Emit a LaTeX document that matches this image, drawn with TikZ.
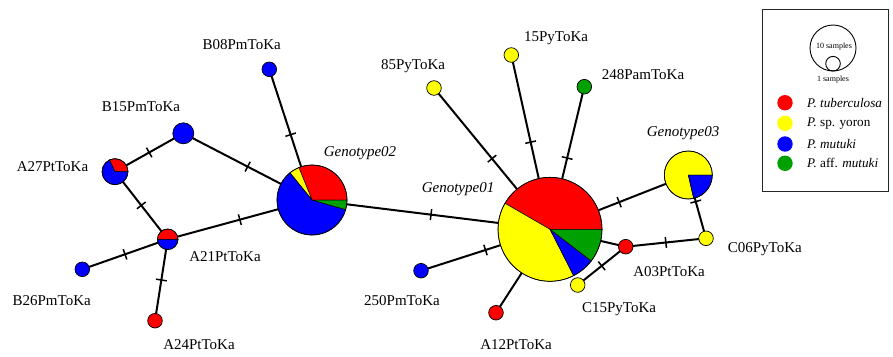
\documentclass[tikz,border=0pt]{standalone}
\usepackage{fontspec}
\setmainfont{Liberation Serif}
\usetikzlibrary{decorations.markings}
\pgfdeclarelayer{edges}
\pgfdeclarelayer{slices}
\pgfsetlayers{edges,slices,main}
\definecolor{pred}{RGB}{255,0,0}
\definecolor{pyel}{RGB}{255,255,0}
\definecolor{pblu}{RGB}{0,0,255}
\definecolor{pgrn}{RGB}{0,160,0}
\tikzset{
  hap/.style={circle, draw=black, line width=0.7pt, inner sep=0pt},
  link/.style={line width=2pt, black},
  tickd/.style={link, postaction={decorate, decoration={markings,
      mark=at position #1 with {\draw[line width=1.5pt] (0,-5.5pt) -- (0,5.5pt);}}}},
  tickd/.default=0.5,
  lab/.style={font=\fontsize{15}{17}\selectfont, inner sep=0pt, text height=9.9pt, text depth=0pt},
  glab/.style={font=\fontsize{15}{17}\selectfont\itshape, inner sep=0pt, text height=9.9pt, text depth=0pt},
  leglab/.style={font=\fontsize{13.2}{15}\selectfont, inner sep=0pt, anchor=west},
  legdot/.style={circle, inner sep=0pt, minimum size=15.4pt},
  smalllab/.style={font=\fontsize{8}{9}\selectfont, inner sep=0pt},
}
\newcommand{\pslice}[5]{%
  \filldraw[fill=#5, draw=black, line width=0.5pt] (#1.center) -- ++(#3:#2) arc[start angle=#3, end angle=#4, radius=#2] -- cycle;}
\begin{document}
\begin{tikzpicture}[x=1pt, y=-1pt]
\useasboundingbox (0,0) rectangle (893,356);
% haplotype nodes
\node[hap, minimum size=70pt] (G02) at (312,200) {};
\node[hap, minimum size=104pt] (G01) at (550,229.3) {};
\node[hap, minimum size=48pt] (G03) at (688.3,175) {};
\node[hap, minimum size=26pt] (A27) at (115,171.7) {};
\node[hap, minimum size=20.6pt] (A21) at (167.7,239.3) {};
\node[hap, minimum size=21pt, fill=pblu] (B15) at (183.3,133.3) {};
\node[hap, minimum size=14.6pt, fill=pblu] (B08) at (269.3,69.3) {};
\node[hap, minimum size=14.6pt, fill=pblu] (B26) at (82.3,269.3) {};
\node[hap, minimum size=14.6pt, fill=pred] (A24) at (155,320.7) {};
\node[hap, minimum size=14.6pt, fill=pyel] (n15) at (511.3,55) {};
\node[hap, minimum size=14.6pt, fill=pyel] (n85) at (434,88) {};
\node[hap, minimum size=14.6pt, fill=pgrn] (n248) at (584.3,86.7) {};
\node[hap, minimum size=14.6pt, fill=pyel] (C06) at (706,238.3) {};
\node[hap, minimum size=14.6pt, fill=pred] (A03) at (625.7,246.7) {};
\node[hap, minimum size=14.6pt, fill=pyel] (C15) at (577.7,285) {};
\node[hap, minimum size=14.6pt, fill=pblu] (n250) at (421,270.7) {};
\node[hap, minimum size=14.6pt, fill=pred] (A12) at (496,312.7) {};
% pie slices
\begin{pgfonlayer}{slices}
\pslice{G02}{35pt}{0}{112}{pred}
\pslice{G02}{35pt}{112}{129}{pyel}
\pslice{G02}{35pt}{129}{344}{pblu}
\pslice{G02}{35pt}{344}{360}{pgrn}
\pslice{G01}{52pt}{0}{150}{pred}
\pslice{G01}{52pt}{150}{297}{pyel}
\pslice{G01}{52pt}{297}{322.5}{pblu}
\pslice{G01}{52pt}{322.5}{360}{pgrn}
\pslice{G03}{24pt}{0}{283}{pyel}
\pslice{G03}{24pt}{283}{360}{pblu}
\pslice{A27}{13pt}{0}{115}{pred}
\pslice{A27}{13pt}{115}{360}{pblu}
\pslice{A21}{10.3pt}{0}{180}{pred}
\pslice{A21}{10.3pt}{180}{360}{pblu}
\end{pgfonlayer}
% connectors
\begin{pgfonlayer}{edges}
\draw[tickd] (B08.center) -- (G02.center);
\draw[tickd] (B15.center) -- (G02.center);
\draw[tickd] (B15.center) -- (A27.center);
\draw[tickd] (A27.center) -- (A21.center);
\draw[tickd] (A21.center) -- (G02.center);
\draw[tickd] (A21.center) -- (B26.center);
\draw[tickd] (A21.center) -- (A24.center);
\draw[tickd] (G02.center) -- (G01.center);
\draw[tickd] (n85.center) -- (G01.center);
\draw[tickd] (n15.center) -- (G01.center);
\draw[tickd] (n248.center) -- (G01.center);
\draw[tickd] (G03.center) -- (G01.center);
\draw[tickd=0.42] (G03.center) -- (C06.center);
\draw[tickd] (C06.center) -- (A03.center);
\draw[link] (A03.center) -- (G01.center);
\draw[tickd] (A03.center) -- (C15.center);
\draw[tickd] (n250.center) -- (G01.center);
\draw[link] (A12.center) -- (G01.center);
\end{pgfonlayer}
% labels
\node[lab] (lB08) at (241.7,45) {B08PmToKa};
\node[lab] (lB15) at (141,106.7) {B15PmToKa};
\node[lab] (lA27) at (52.5,166.7) {A27PtToKa};
\node[lab] (lA21) at (225,256.7) {A21PtToKa};
\node[lab] (lB26) at (51.7,301) {B26PmToKa};
\node[lab] (lA24) at (199,345) {A24PtToKa};
\node[glab] (lG02) at (360,152) {Genotype02};
\node[glab] (lG01) at (458,188) {Genotype01};
\node[glab] (lG03) at (683,131.7) {Genotype03};
\node[lab] (l85) at (413,65) {85PyToKa};
\node[lab] (l15) at (556,37) {15PyToKa};
\node[lab] (l248) at (643,75) {248PamToKa};
\node[lab] (lC06) at (764.8,247.7) {C06PyToKa};
\node[lab] (lA03) at (669,271.7) {A03PtToKa};
\node[lab] (lC15) at (619,308) {C15PyToKa};
\node[lab] (l250) at (402,301) {250PmToKa};
\node[lab] (lA12) at (516,345) {A12PtToKa};
% legend
\node[draw=black!85, line width=1pt, minimum width=126pt, minimum height=182pt, inner sep=0pt] (legbox) at (825,100) {};
\node[circle, draw=black, line width=0.9pt, minimum size=46pt, inner sep=0pt] (c10) at (833,48) {};
\node[circle, draw=black, line width=0.9pt, minimum size=14.6pt, inner sep=0pt] (c1) at (833,63.7) {};
\node[smalllab] (t10) at (834,46.5) {10 samples};
\node[smalllab] (t1) at (833,80) {1 samples};
\node[legdot, fill=pred] (d1) at (785,102.7) {};
\node[legdot, fill=pyel] (d2) at (785,123.3) {};
\node[legdot, fill=pblu] (d3) at (785,144) {};
\node[legdot, fill=pgrn] (d4) at (785,163.3) {};
\node[leglab] (e1) at (807,102.7) {\textit{P. tuberculosa}};
\node[leglab] (e2) at (807,123.3) {\textit{P.} sp. yoron};
\node[leglab] (e3) at (807,144) {\textit{P. mutuki}};
\node[leglab] (e4) at (807,163.3) {\textit{P.} aff. \textit{mutuki}};
\end{tikzpicture}
\end{document}
